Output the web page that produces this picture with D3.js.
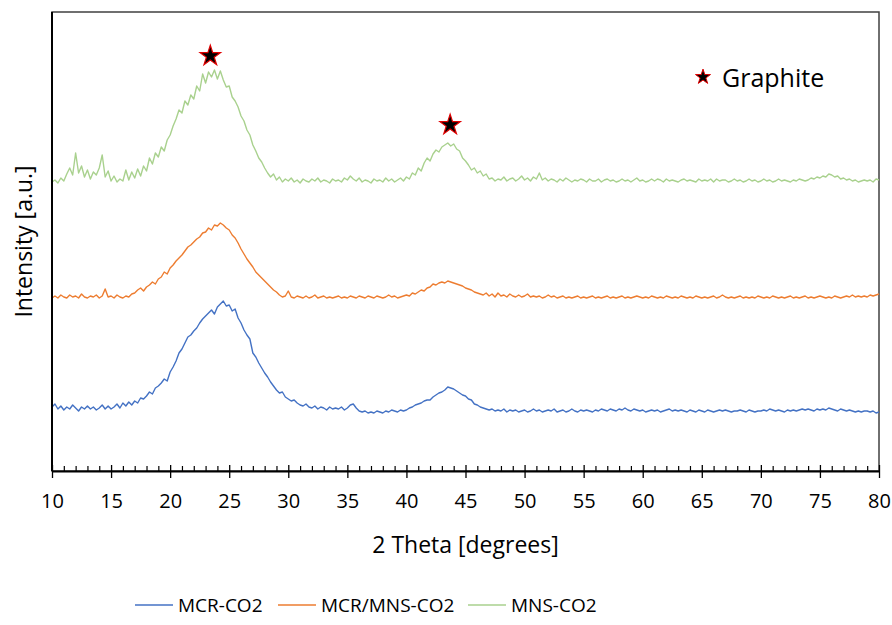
<!DOCTYPE html>
<html>
<head>
<meta charset="utf-8">
<script src="https://cdn.jsdelivr.net/npm/d3@7"></script>
<style>
  body { margin: 0; background: #fff; }
  svg { display: block; font-family: "Open Sans", sans-serif; }
</style>
</head>
<body>
<svg id="chart" width="892" height="625"></svg>
<script>
// XRD patterns, stacked (a.u.), sampled every 0.25 deg from 10 to 80
const twoTheta = d3.range(281).map(i => 10 + i * 0.25);

const seriesNames = ["MCR-CO2", "MCR/MNS-CO2", "MNS-CO2"];
const seriesColors = ["#4472C4", "#ED7D31", "#A9D18E"];

const mcrCO2 = [
  64, 67, 62, 65,
  61, 64, 62, 66,
  63, 60, 64, 62,
  65, 62, 64, 61,
  63, 66, 62, 65,
  62, 64, 67, 63,
  68, 65, 69, 66,
  70, 68, 73, 72,
  75, 79, 77, 83,
  85, 88, 92, 90,
  99, 104, 110, 118,
  122, 128, 134, 136,
  140, 143, 148, 152,
  155, 158, 161, 157,
  164, 167, 170, 165,
  166, 160, 162, 153,
  148, 141, 136, 132,
  118, 114, 108, 103,
  98, 94, 89, 85,
  81, 78, 79, 74,
  72, 70, 71, 68,
  66, 65, 67, 64,
  63, 65, 62, 64,
  63, 61, 64, 62,
  63, 62, 64, 61,
  63, 66, 67, 63,
  60, 59, 60, 58,
  59, 58, 60, 59,
  58, 60, 59, 61,
  60, 59, 61, 60,
  61, 63, 64, 66,
  67, 68, 70, 71,
  71, 74, 76, 78,
  79, 81, 84, 83,
  82, 80, 78, 76,
  75, 72, 71, 67,
  66, 64, 63, 62,
  61, 62, 60, 61,
  60, 62, 59, 61,
  60, 61, 59, 60,
  61, 59, 60, 62,
  60, 61, 59, 60,
  61, 60, 62, 59,
  60, 61, 59, 60,
  62, 60, 59, 61,
  60, 61, 60, 59,
  61, 60, 62, 61,
  60, 62, 61, 60,
  62, 61, 63, 61,
  60, 62, 61, 60,
  61, 59, 60, 61,
  60, 61, 59, 60,
  61, 62, 60, 61,
  60, 61, 60, 59,
  61, 60, 59, 61,
  60, 59, 61, 60,
  59, 60, 61, 60,
  61, 60, 59, 60,
  60, 61, 60, 59,
  61, 60, 59, 60,
  60, 61, 60, 62,
  61, 60, 61, 60,
  59, 61, 60, 61,
  60, 61, 62, 61,
  62, 61, 60, 62,
  61, 62, 61, 63,
  62, 61, 60, 62,
  61, 60, 61, 60,
  59, 60, 59, 60,
  60, 59, 60, 58,
  59
];

const mcrMnsCO2 = [
  173, 175, 173, 176,
  174, 173, 176, 174,
  175, 173, 177, 174,
  173, 175, 174, 176,
  173, 175, 182, 174,
  175, 173, 176, 174,
  173, 175, 174, 177,
  178, 181, 183, 180,
  184, 186, 189, 187,
  192, 194, 199, 197,
  203, 206, 210, 213,
  216, 220, 224, 226,
  229, 232, 234, 238,
  239, 243, 241, 246,
  245, 248, 246, 243,
  241, 236, 233, 228,
  222, 217, 212, 208,
  204, 199, 196, 193,
  190, 187, 184, 181,
  179, 176, 174, 175,
  180, 174, 173, 175,
  174, 173, 175, 173,
  174, 176, 173, 174,
  175, 173, 174, 173,
  174, 175, 173, 174,
  173, 175, 174, 173,
  175, 174, 173, 175,
  174, 173, 175, 174,
  173, 174, 176, 174,
  175, 173, 174, 175,
  176, 175, 178, 177,
  179, 181, 180, 183,
  184, 187, 186, 188,
  189, 188, 190, 189,
  188, 187, 186, 185,
  183, 182, 181, 179,
  178, 177, 176, 178,
  175, 177, 174, 178,
  175, 176, 174, 177,
  175, 174, 176, 174,
  175, 177, 174, 175,
  174, 175, 173, 174,
  176, 174, 175, 173,
  174, 175, 173, 174,
  173, 174, 175, 173,
  174, 173, 174, 175,
  173, 174, 173, 174,
  175, 173, 174, 173,
  174, 175, 173, 174,
  173, 174, 175, 174,
  173, 174, 173, 175,
  174, 173, 174, 173,
  175, 174, 173, 174,
  173, 175, 174, 173,
  174, 173, 175, 174,
  173, 174, 173, 174,
  175, 173, 174, 176,
  174, 173, 174, 173,
  174, 175, 173, 174,
  173, 174, 173, 175,
  174, 173, 174, 173,
  175, 174, 173, 174,
  173, 174, 175, 173,
  174, 173, 174, 175,
  173, 174, 173, 174,
  175, 174, 173, 174,
  173, 175, 174, 173,
  174, 175, 174, 176,
  174, 175, 174, 175,
  174, 176, 175, 176,
  177
];

const mnsCO2 = [
  289, 291, 288, 293,
  290, 297, 303, 296,
  318, 298, 305, 294,
  301, 292, 299, 296,
  303, 316, 294, 300,
  290, 295, 289, 292,
  290, 301, 291, 299,
  293, 302, 295, 305,
  300, 313, 307, 318,
  314, 324, 320, 331,
  336, 345, 352, 361,
  358, 370, 366, 376,
  372, 385, 380, 397,
  388, 399, 394, 401,
  392, 400, 391, 384,
  385, 374, 370, 364,
  355, 350, 341, 336,
  326, 320, 313, 309,
  303, 298, 294, 297,
  291, 294, 289, 292,
  290, 293, 289, 291,
  288, 292, 290, 289,
  292, 290, 293, 289,
  291, 290, 288, 292,
  290, 291, 289, 293,
  291, 295, 292, 290,
  293, 289, 291, 290,
  288, 292, 290, 291,
  289, 293, 290, 292,
  289, 291, 293, 290,
  294, 292, 298, 296,
  303, 300, 308, 313,
  310, 317, 321, 319,
  324, 326, 328, 325,
  327, 322, 320, 313,
  310, 306, 301, 303,
  298, 300, 295, 297,
  292, 293, 290, 292,
  291, 294, 290, 292,
  293, 290, 292, 295,
  291, 293, 290, 294,
  292, 298, 291, 293,
  290, 292, 291, 289,
  292, 290, 293, 291,
  289, 291, 290, 292,
  291, 289, 292, 290,
  290, 292, 289, 291,
  292, 290, 291, 289,
  290, 292, 290, 291,
  289, 291, 293, 290,
  291, 289, 290, 292,
  290, 292, 291, 289,
  292, 290, 291, 290,
  289, 291, 292, 290,
  291, 290, 289, 292,
  290, 291, 290, 292,
  289, 292, 290, 291,
  291, 289, 290, 292,
  290, 291, 289, 290,
  292, 290, 291, 289,
  290, 292, 290, 291,
  289, 290, 292, 290,
  291, 290, 289, 291,
  290, 292, 291, 290,
  291, 293, 292, 294,
  293, 295, 294, 297,
  296, 294, 295, 292,
  293, 291, 292, 290,
  291, 289, 290, 291,
  290, 291, 289, 292,
  291
];

// graphite reflections marked on the top pattern
const graphiteAngles = [23.4, 43.7];
const graphiteHeights = [415, 346];

const xTicks = d3.range(10, 81, 5);
const xMinorTicks = d3.range(10, 81, 1).filter(d => d % 5 !== 0);

const svg = d3.select("#chart");
const margin = { top: 12, right: 13, bottom: 154, left: 52 };
const width = 892 - margin.left - margin.right;
const height = 625 - margin.top - margin.bottom;

const x = d3.scaleLinear().domain([10, 80]).range([0, width]);
const y = d3.scaleLinear().domain([0, 459]).range([height, 0]);

const g = svg.append("g").attr("transform", `translate(${margin.left},${margin.top})`);

// plot frame
g.append("rect")
  .attr("width", width)
  .attr("height", height)
  .attr("fill", "none")
  .attr("stroke", "#404040")
  .attr("stroke-width", 1.5);

// lines
const allSeries = [mcrCO2, mcrMnsCO2, mnsCO2];
const line = d3.line().x((d, i) => x(twoTheta[i])).y(d => y(d));

allSeries.forEach((vals, k) => {
  g.append("path")
    .datum(vals)
    .attr("d", line)
    .attr("fill", "none")
    .attr("stroke", seriesColors[k])
    .attr("stroke-width", 1.4)
    .attr("stroke-linejoin", "round");
});

// stars
const star = d3.symbol().type(d3.symbolStar);
g.selectAll(".peak")
  .data(graphiteAngles)
  .join("path")
  .attr("class", "peak")
  .attr("d", star.size(130)())
  .attr("transform", (d, i) => `translate(${x(d)},${y(graphiteHeights[i])})`)
  .attr("fill", "#000")
  .attr("stroke", "#e00000")
  .attr("stroke-width", 1.2);

// left axis line
g.append("line")
  .attr("x1", 0).attr("x2", 0)
  .attr("y1", 0).attr("y2", height)
  .attr("stroke", "#000")
  .attr("stroke-width", 2);

// minor ticks
g.append("g")
  .attr("transform", `translate(0,${height})`)
  .call(d3.axisBottom(x).tickValues(xMinorTicks).tickSize(-5).tickFormat(""))
  .call(a => a.select(".domain").remove())
  .call(a => a.selectAll("line").attr("stroke", "#000").attr("stroke-width", 1.2));

// major ticks + labels
const xAxis = g.append("g")
  .attr("transform", `translate(0,${height})`)
  .call(d3.axisBottom(x).tickValues(xTicks).tickSize(7).tickPadding(16).tickSizeOuter(0));

xAxis.select(".domain").attr("stroke", "#000").attr("stroke-width", 2);
xAxis.selectAll(".tick line").attr("y1", -6).attr("stroke", "#000").attr("stroke-width", 1.3);
xAxis.selectAll(".tick text")
  .attr("font-family", "Open Sans, sans-serif")
  .attr("font-size", 20)
  .attr("fill", "#000");

// axis titles
svg.append("text")
  .attr("x", margin.left + width / 2)
  .attr("y", 553)
  .attr("text-anchor", "middle")
  .attr("font-size", 23)
  .attr("fill", "#000")
  .text("2 Theta [degrees]");

svg.append("text")
  .attr("transform", `translate(32,${margin.top + height / 2}) rotate(-90)`)
  .attr("text-anchor", "middle")
  .attr("font-size", 23)
  .attr("fill", "#000")
  .text("Intensity [a.u.]");

// graphite key
svg.append("path")
  .attr("d", d3.symbol().type(d3.symbolStar).size(70)())
  .attr("transform", "translate(703,77)")
  .attr("fill", "#000")
  .attr("stroke", "#e00000")
  .attr("stroke-width", 1);

svg.append("text")
  .attr("x", 722)
  .attr("y", 87)
  .attr("font-size", 25)
  .attr("fill", "#000")
  .text("Graphite");

// legend
const legendX = [135, 278, 468];
const legend = svg.append("g");
seriesNames.forEach((name, k) => {
  legend.append("line")
    .attr("x1", legendX[k]).attr("x2", legendX[k] + 38)
    .attr("y1", 605).attr("y2", 605)
    .attr("stroke", seriesColors[k])
    .attr("stroke-width", 1.5);
  legend.append("text")
    .attr("x", legendX[k] + 43)
    .attr("y", 612)
    .attr("font-size", 19)
    .attr("fill", "#000")
    .text(name);
});
</script>
</body>
</html>
